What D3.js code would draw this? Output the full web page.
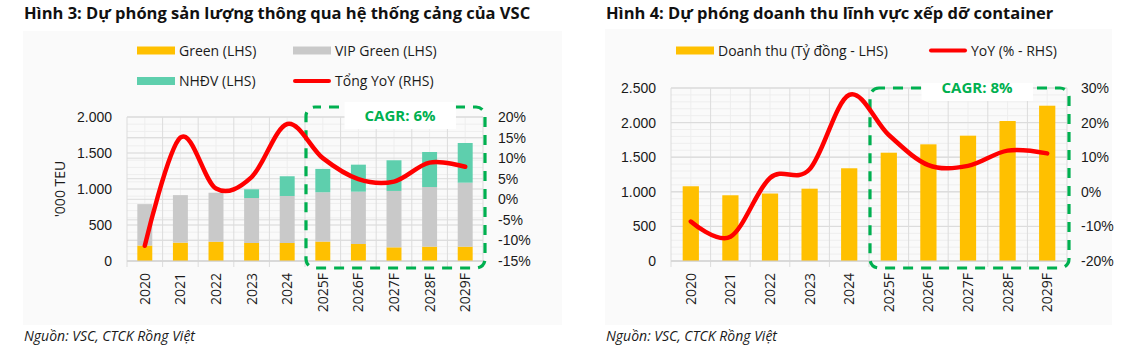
<!DOCTYPE html>
<html>
<head>
<meta charset="utf-8">
<script src="https://cdn.jsdelivr.net/npm/d3@7"></script>
<style>
  html, body { margin: 0; padding: 0; background: #fff; }
  svg { display: block; font-family: "Open Sans", "Noto Sans", sans-serif; }
  .title { font-weight: 700; font-size: 16.5px; fill: #111; }
  .tick-label { font-size: 14px; fill: #1a1a1a; }
  .legend-text { font-size: 14px; fill: #1a1a1a; }
  .source { font-size: 14px; font-style: italic; fill: #1a1a1a; }
  .cagr { font-size: 15px; font-weight: 700; fill: #00b050; }
</style>
</head>
<body>
<svg id="chart" width="1128" height="352"></svg>
<script>
// ---- data ----
const years = ['2020', '2021', '2022', '2023', '2024', '2025F', '2026F', '2027F', '2028F', '2029F']

// Hình 3 - sản lượng ('000 TEU) & YoY (%)
const greenVol = [215, 255, 268, 250, 250, 270, 236, 190, 199, 199]
const vipGreenVol = [575, 660, 680, 625, 653, 685, 727, 783, 829, 889]
const nhdvVol = [0, 0, 0, 121, 274, 324, 375, 426, 486, 551]
const totalYoY = [-11.3, 15.0, 2.6, 5.4, 18.3, 10.0, 4.9, 4.3, 8.9, 7.9]
const volTicks = [0, 500, 1000, 1500, 2000]
const volPctTicks = [-15, -10, -5, 0, 5, 10, 15, 20]

// Hình 4 - doanh thu (tỷ đồng) & YoY (%)
const revenue = [1080, 950, 975, 1045, 1340, 1565, 1686, 1811, 2023, 2244]
const revenueYoY = [-8.6, -13.0, 4.0, 6.5, 28.0, 16.4, 7.7, 7.5, 11.9, 11.1]
const revTicks = [0, 500, 1000, 1500, 2000, 2500]
const revPctTicks = [-20, -10, 0, 10, 20, 30]

const titles = [
  'Hình 3: Dự phóng sản lượng thông qua hệ thống cảng của VSC',
  'Hình 4: Dự phóng doanh thu lĩnh vực xếp dỡ container'
]
const sourceText = 'Nguồn: VSC, CTCK Rồng Việt'
const cagrLabels = ['CAGR: 6%', 'CAGR: 8%']

const COLORS = {
  green: '#ffc000',
  vip: '#c9c9c9',
  nhdv: '#5ecfad',
  line: '#ff0000',
  box: '#00b050',
  gridMajor: '#dcdcdc',
  gridMinor: '#eeeeee'
}

const fmtThousands = d3.formatLocale({ decimal: ',', thousands: '.', grouping: [3], currency: ['', ''] }).format(',')
const fmtPct = d => `${d}%`

const $svg = d3.select('#chart')

function fitTitle(sel, maxWidth) {
  const w = sel.node().getComputedTextLength()
  if (w > maxWidth) {
    sel.attr('textLength', maxWidth).attr('lengthAdjust', 'spacingAndGlyphs')
  }
}

function drawChart(cfg) {
  const g = $svg.append('g')

  // panel background
  g.append('rect')
    .attr('x', cfg.panel[0]).attr('y', cfg.panel[1])
    .attr('width', cfg.panel[2]).attr('height', cfg.panel[3])
    .attr('fill', '#fafafa')

  // title
  const title = g.append('text')
    .attr('class', 'title')
    .attr('x', cfg.titleX).attr('y', 18.5)
    .text(cfg.title)
  fitTitle(title, cfg.titleWidth)

  const x = d3.scaleBand().domain(years).range([cfg.left, cfg.right]).padding(0)
  const y = d3.scaleLinear().domain(cfg.yDomain).range([cfg.bottom, cfg.top])
  const y2 = d3.scaleLinear().domain(cfg.y2Domain).range([cfg.bottom, cfg.top])

  // minor grid
  const gGrid = g.append('g')
  gGrid.selectAll('line.minor-h')
    .data(d3.range(cfg.yDomain[0], cfg.yDomain[1] + 1, cfg.minorStep))
    .join('line')
    .attr('x1', cfg.left).attr('x2', cfg.right)
    .attr('y1', d => y(d)).attr('y2', d => y(d))
    .attr('stroke', COLORS.gridMinor)
  gGrid.selectAll('line.minor-v')
    .data(years)
    .join('line')
    .attr('x1', d => x(d) + x.bandwidth() / 2).attr('x2', d => x(d) + x.bandwidth() / 2)
    .attr('y1', cfg.top).attr('y2', cfg.bottom)
    .attr('stroke', COLORS.gridMinor)

  // major grid (both axes)
  gGrid.append('g').selectAll('line')
    .data(cfg.yTicks)
    .join('line')
    .attr('x1', cfg.left).attr('x2', cfg.right)
    .attr('y1', d => y(d)).attr('y2', d => y(d))
    .attr('stroke', COLORS.gridMajor)
  gGrid.append('g').selectAll('line')
    .data(cfg.y2Ticks)
    .join('line')
    .attr('x1', cfg.left).attr('x2', cfg.right)
    .attr('y1', d => y2(d)).attr('y2', d => y2(d))
    .attr('stroke', COLORS.gridMajor)
  gGrid.append('g').selectAll('line')
    .data(years.concat(['end']))
    .join('line')
    .attr('x1', (d, i) => cfg.left + i * x.step()).attr('x2', (d, i) => cfg.left + i * x.step())
    .attr('y1', cfg.top).attr('y2', cfg.bottom + 6)
    .attr('stroke', COLORS.gridMajor)

  // bars
  const rows = years.map((yr, i) => {
    const r = { year: yr }
    cfg.series.forEach(s => { r[s.key] = s.values[i] })
    return r
  })
  const stacked = d3.stack().keys(cfg.series.map(s => s.key))(rows)
  const barW = x.bandwidth() * cfg.barRatio

  g.append('g').selectAll('g')
    .data(stacked)
    .join('g')
    .attr('fill', d => COLORS[d.key])
    .selectAll('rect')
    .data(d => d)
    .join('rect')
    .attr('x', d => x(d.data.year) + (x.bandwidth() - barW) / 2)
    .attr('y', d => y(d[1]))
    .attr('width', barW)
    .attr('height', d => Math.max(0, y(d[0]) - y(d[1])))

  // axis line
  g.append('line')
    .attr('x1', cfg.left).attr('x2', cfg.right)
    .attr('y1', cfg.bottom).attr('y2', cfg.bottom)
    .attr('stroke', '#d0d0d0')

  // left axis
  const leftAxis = g.append('g')
    .attr('transform', `translate(${cfg.left},0)`)
    .call(d3.axisLeft(y).tickValues(cfg.yTicks).tickFormat(fmtThousands).tickSize(0).tickPadding(15))
  leftAxis.select('.domain').remove()
  leftAxis.selectAll('text').attr('class', 'tick-label').attr('font-size', null).attr('font-family', null)

  // right axis
  const rightAxis = g.append('g')
    .attr('transform', `translate(${cfg.right},0)`)
    .call(d3.axisRight(y2).tickValues(cfg.y2Ticks).tickFormat(fmtPct).tickSize(0).tickPadding(cfg.rightPad))
  rightAxis.select('.domain').remove()
  rightAxis.selectAll('text').attr('class', 'tick-label').attr('font-size', null).attr('font-family', null)

  // x labels (rotated)
  g.append('g').selectAll('text')
    .data(years)
    .join('text')
    .attr('class', 'tick-label')
    .attr('text-anchor', 'end')
    .attr('transform', d => `translate(${x(d) + x.bandwidth() / 2 + 5},${cfg.bottom + 12}) rotate(-90)`)
    .text(d => d)

  // y title
  if (cfg.yTitle) {
    g.append('text')
      .attr('class', 'tick-label')
      .attr('text-anchor', 'middle')
      .attr('transform', `translate(${cfg.yTitleX},${(cfg.top + cfg.bottom) / 2}) rotate(-90)`)
      .text(cfg.yTitle)
  }

  // CAGR dashed box
  const boxX = x('2025F') + 1
  const boxTop = y(cfg.yDomain[1]) - cfg.boxTopOffset
  g.append('rect')
    .attr('x', boxX).attr('y', boxTop)
    .attr('width', cfg.right + 2 - boxX)
    .attr('height', cfg.bottom + 7 - boxTop)
    .attr('rx', 9).attr('ry', 9)
    .attr('fill', 'none')
    .attr('stroke', COLORS.box)
    .attr('stroke-width', 3.2)
    .attr('stroke-dasharray', '10 8')
    .attr('stroke-dashoffset', 4)

  const cagr = g.append('text')
    .attr('class', 'cagr')
    .attr('text-anchor', 'middle')
    .attr('x', cfg.cagrX).attr('y', boxTop + cfg.cagrDy)
    .text(cfg.cagr)
  const bb = cagr.node().getBBox()
  g.insert('rect', '.cagr')
    .attr('x', bb.x - 20).attr('y', boxTop - 5)
    .attr('width', bb.width + 40)
    .attr('height', bb.y + bb.height + 4 - (boxTop - 5))
    .attr('fill', '#fff')

  // YoY line
  const line = d3.line()
    .x((d, i) => x(years[i]) + x.bandwidth() / 2)
    .y(d => y2(d))
    .curve(d3.curveCardinal.tension(0))
  g.append('path')
    .datum(cfg.yoy)
    .attr('d', line)
    .attr('fill', 'none')
    .attr('stroke', COLORS.line)
    .attr('stroke-width', 4.5)
    .attr('stroke-linecap', 'round')
    .attr('stroke-linejoin', 'round')

  // legend
  const gLegend = g.append('g')
  cfg.legend.forEach(item => {
    if (item.type === 'rect') {
      gLegend.append('rect')
        .attr('x', item.x).attr('y', item.y - 4)
        .attr('width', 38).attr('height', 8)
        .attr('fill', COLORS[item.key])
    } else {
      gLegend.append('line')
        .attr('x1', item.x + 2).attr('x2', item.x + 36)
        .attr('y1', item.y).attr('y2', item.y)
        .attr('stroke', COLORS.line)
        .attr('stroke-width', 4)
        .attr('stroke-linecap', 'round')
    }
    gLegend.append('text')
      .attr('class', 'legend-text')
      .attr('x', item.x + 42).attr('y', item.y + 5)
      .text(item.label)
  })

  // source
  g.append('text')
    .attr('class', 'source')
    .attr('x', cfg.titleX).attr('y', 341)
    .text(sourceText)
}

function init() {
  drawChart({
    title: titles[0],
    titleX: 24,
    titleWidth: 532,
    panel: [23, 31, 539, 294],
    left: 127, right: 483, top: 117, bottom: 261,
    yDomain: [0, 2000], y2Domain: [-15, 20],
    yTicks: volTicks, y2Ticks: volPctTicks,
    minorStep: 100,
    rightPad: 15,
    barRatio: 0.42,
    series: [
      { key: 'green', values: greenVol },
      { key: 'vip', values: vipGreenVol },
      { key: 'nhdv', values: nhdvVol }
    ],
    yoy: totalYoY,
    yTitle: "'000 TEU",
    yTitleX: 65,
    boxTopOffset: 10,
    cagr: cagrLabels[0],
    cagrX: 400,
    cagrDy: 14,
    legend: [
      { type: 'rect', key: 'green', label: 'Green (LHS)', x: 137, y: 50.5 },
      { type: 'rect', key: 'vip', label: 'VIP Green (LHS)', x: 293, y: 50.5 },
      { type: 'rect', key: 'nhdv', label: 'NHĐV (LHS)', x: 137, y: 81 },
      { type: 'line', key: 'line', label: 'Tổng YoY (RHS)', x: 293, y: 81 }
    ]
  })

  drawChart({
    title: titles[1],
    titleX: 606,
    titleWidth: 471,
    panel: [605, 29, 507, 296],
    left: 671, right: 1067, top: 88, bottom: 261,
    yDomain: [0, 2500], y2Domain: [-20, 30],
    yTicks: revTicks, y2Ticks: revPctTicks,
    minorStep: 100,
    rightPad: 14,
    barRatio: 0.41,
    series: [
      { key: 'green', values: revenue }
    ],
    yoy: revenueYoY,
    yTitle: null,
    boxTopOffset: 0,
    cagr: cagrLabels[1],
    cagrX: 977,
    cagrDy: 5,
    legend: [
      { type: 'rect', key: 'green', label: 'Doanh thu (Tỷ đồng - LHS)', x: 676, y: 50.5 },
      { type: 'line', key: 'line', label: 'YoY (% - RHS)', x: 929, y: 50.5 }
    ]
  })
}

init()
</script>
</body>
</html>
